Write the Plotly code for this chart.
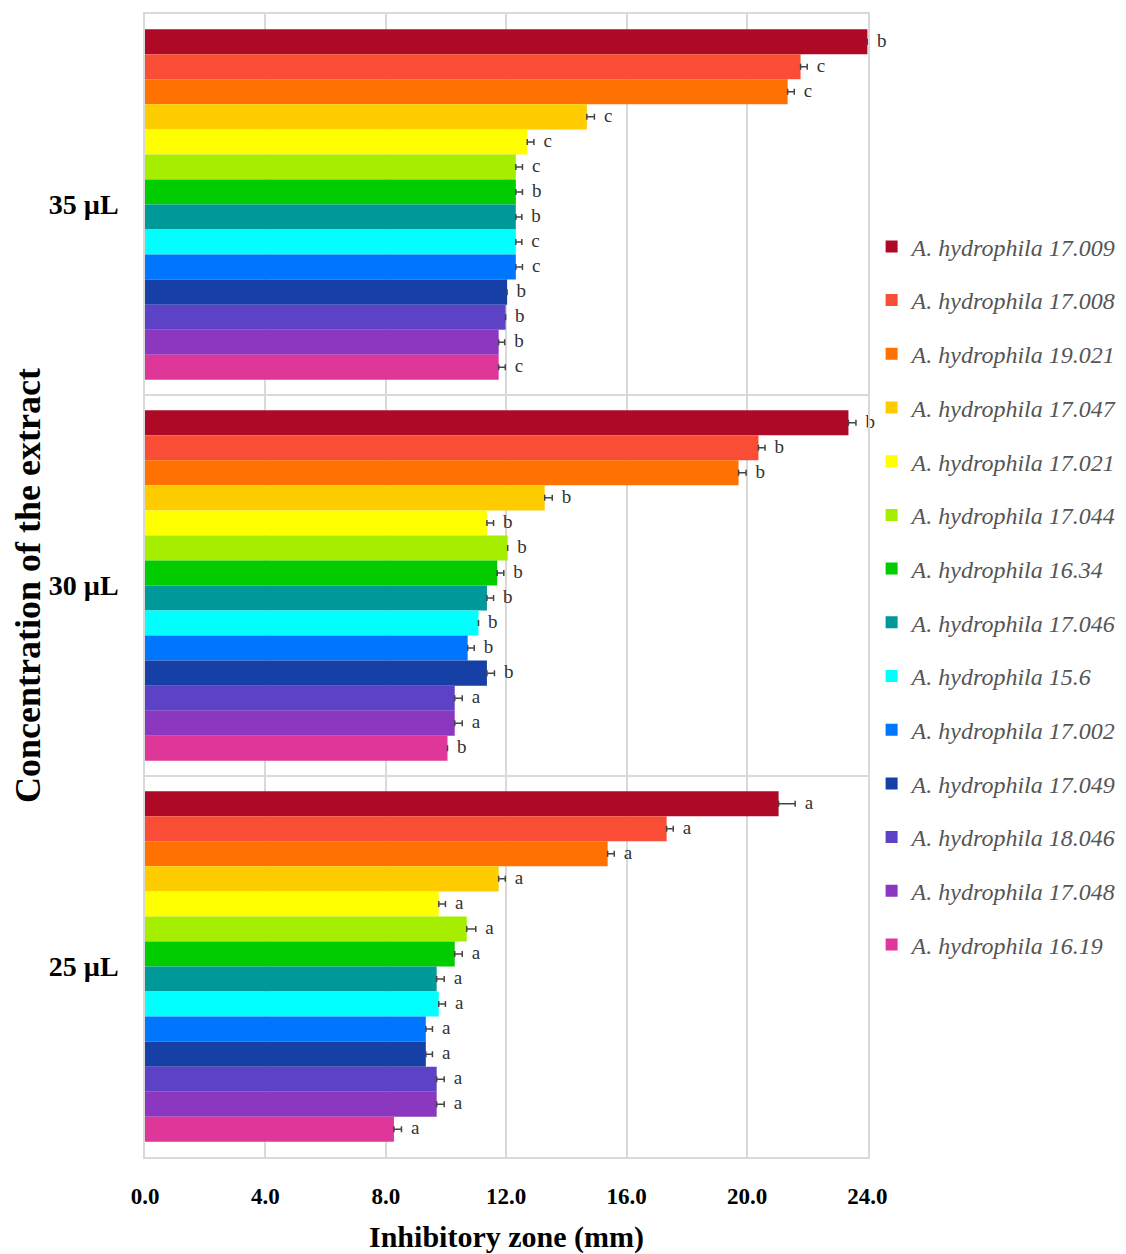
import plotly.graph_objects as go

concentrations = ["35 µL", "30 µL", "25 µL"]
strains = ["A. hydrophila 17.009", "A. hydrophila 17.008", "A. hydrophila 19.021",
           "A. hydrophila 17.047", "A. hydrophila 17.021", "A. hydrophila 17.044",
           "A. hydrophila 16.34", "A. hydrophila 17.046", "A. hydrophila 15.6",
           "A. hydrophila 17.002", "A. hydrophila 17.049", "A. hydrophila 18.046",
           "A. hydrophila 17.048", "A. hydrophila 16.19"]
colors = ["#AE0A28", "#F94E35", "#FF7100", "#FFCC00", "#FFFF00", "#A6EE00", "#00CC00",
          "#009999", "#00FFFF", "#0076FF", "#1740A6", "#5E42C6", "#8B37C0", "#DE3799"]

# values per strain: [35 µL, 30 µL, 25 µL]
values = [
    [24.0, 23.37, 21.05],
    [21.78, 20.38, 17.33],
    [21.35, 19.72, 15.37],
    [14.68, 13.28, 11.75],
    [12.70, 11.36, 9.76],
    [12.32, 12.05, 10.69],
    [12.32, 11.70, 10.29],
    [12.32, 11.36, 9.69],
    [12.32, 11.08, 9.76],
    [12.32, 10.72, 9.33],
    [12.03, 11.36, 9.33],
    [11.98, 10.29, 9.69],
    [11.75, 10.29, 9.69],
    [11.75, 10.05, 8.27],
]
errors = [
    [0.0, 0.25, 0.55],
    [0.22, 0.22, 0.22],
    [0.22, 0.25, 0.22],
    [0.25, 0.25, 0.22],
    [0.22, 0.22, 0.22],
    [0.22, 0.0, 0.30],
    [0.22, 0.22, 0.25],
    [0.20, 0.22, 0.25],
    [0.20, 0.0, 0.22],
    [0.22, 0.22, 0.22],
    [0.0, 0.25, 0.22],
    [0.0, 0.25, 0.25],
    [0.20, 0.25, 0.25],
    [0.22, 0.0, 0.25],
]
letters = [
    ["b", "b", "a"], ["c", "b", "a"], ["c", "b", "a"], ["c", "b", "a"],
    ["c", "b", "a"], ["c", "b", "a"], ["b", "b", "a"], ["b", "b", "a"],
    ["c", "b", "a"], ["c", "b", "a"], ["b", "b", "a"], ["b", "a", "a"],
    ["b", "a", "a"], ["c", "b", "a"],
]
x_ticks = [0, 4, 8, 12, 16, 20, 24]

fig = go.Figure()
for i, name in enumerate(strains):
    fig.add_trace(go.Bar(
        x=values[i], y=concentrations, orientation="h", name=name,
        marker=dict(color=colors[i], line=dict(width=0)),
        error_x=dict(type="data", symmetric=False, array=errors[i],
                     arrayminus=[0] * 3, color="#444444", thickness=1.5, width=3),
        legendgroup=f"g{i}", cliponaxis=False, hoverinfo="x+name",
    ))
for i, name in enumerate(strains):
    fig.add_trace(go.Scatter(
        x=[v + e for v, e in zip(values[i], errors[i])], y=concentrations,
        orientation="h", mode="text", text=["\u00a0\u00a0" + t for t in letters[i]],
        textposition="middle right",
        textfont=dict(family="Liberation Serif", size=19, color="#333333"),
        showlegend=False, hoverinfo="skip", cliponaxis=False,
    ))

fig.update_layout(
    width=1118, height=1246,
    margin=dict(l=137, r=258, t=6, b=97, autoexpand=False),
    paper_bgcolor="white", plot_bgcolor="white",
    barmode="group", bargap=0.08, bargroupgap=0,
    scattermode="group", scattergap=0.08,
    legend=dict(x=1.005, xanchor="left", y=0.491, yanchor="middle",
                font=dict(family="Liberation Serif", size=24, color="#555555", style="italic"),
                tracegroupgap=19.5, itemwidth=30, bgcolor="rgba(0,0,0,0)"),
    xaxis=dict(range=[0, 24.02], tickvals=x_ticks, ticktext=[f"{t:.1f}" for t in x_ticks],
               automargin=False,
               showgrid=True, gridcolor="#D9D9D9", gridwidth=1.5,
               showline=True, linecolor="#D9D9D9", linewidth=1.5, mirror=True,
               zeroline=False, ticks="", ticklabelstandoff=18,
               tickfont=dict(family="Liberation Serif", size=23, color="black", weight="bold"),
               title=dict(text="Inhibitory zone (mm)", standoff=20,
                          font=dict(family="Liberation Serif", size=30, color="black", weight="bold"))),
    yaxis=dict(categoryorder="array", categoryarray=concentrations, autorange="reversed",
               automargin=False,
               showgrid=True, gridcolor="#D9D9D9", gridwidth=1.5, tickson="boundaries",
               showline=True, linecolor="#D9D9D9", linewidth=1.5, mirror=True,
               ticks="", ticklabelstandoff=19,
               tickfont=dict(family="Liberation Serif", size=28, color="black", weight="bold"),
               title=dict(text="Concentration of the extract", standoff=11,
                          font=dict(family="Liberation Serif", size=36, color="black", weight="bold"))),
)

fig.write_html("out.html")
